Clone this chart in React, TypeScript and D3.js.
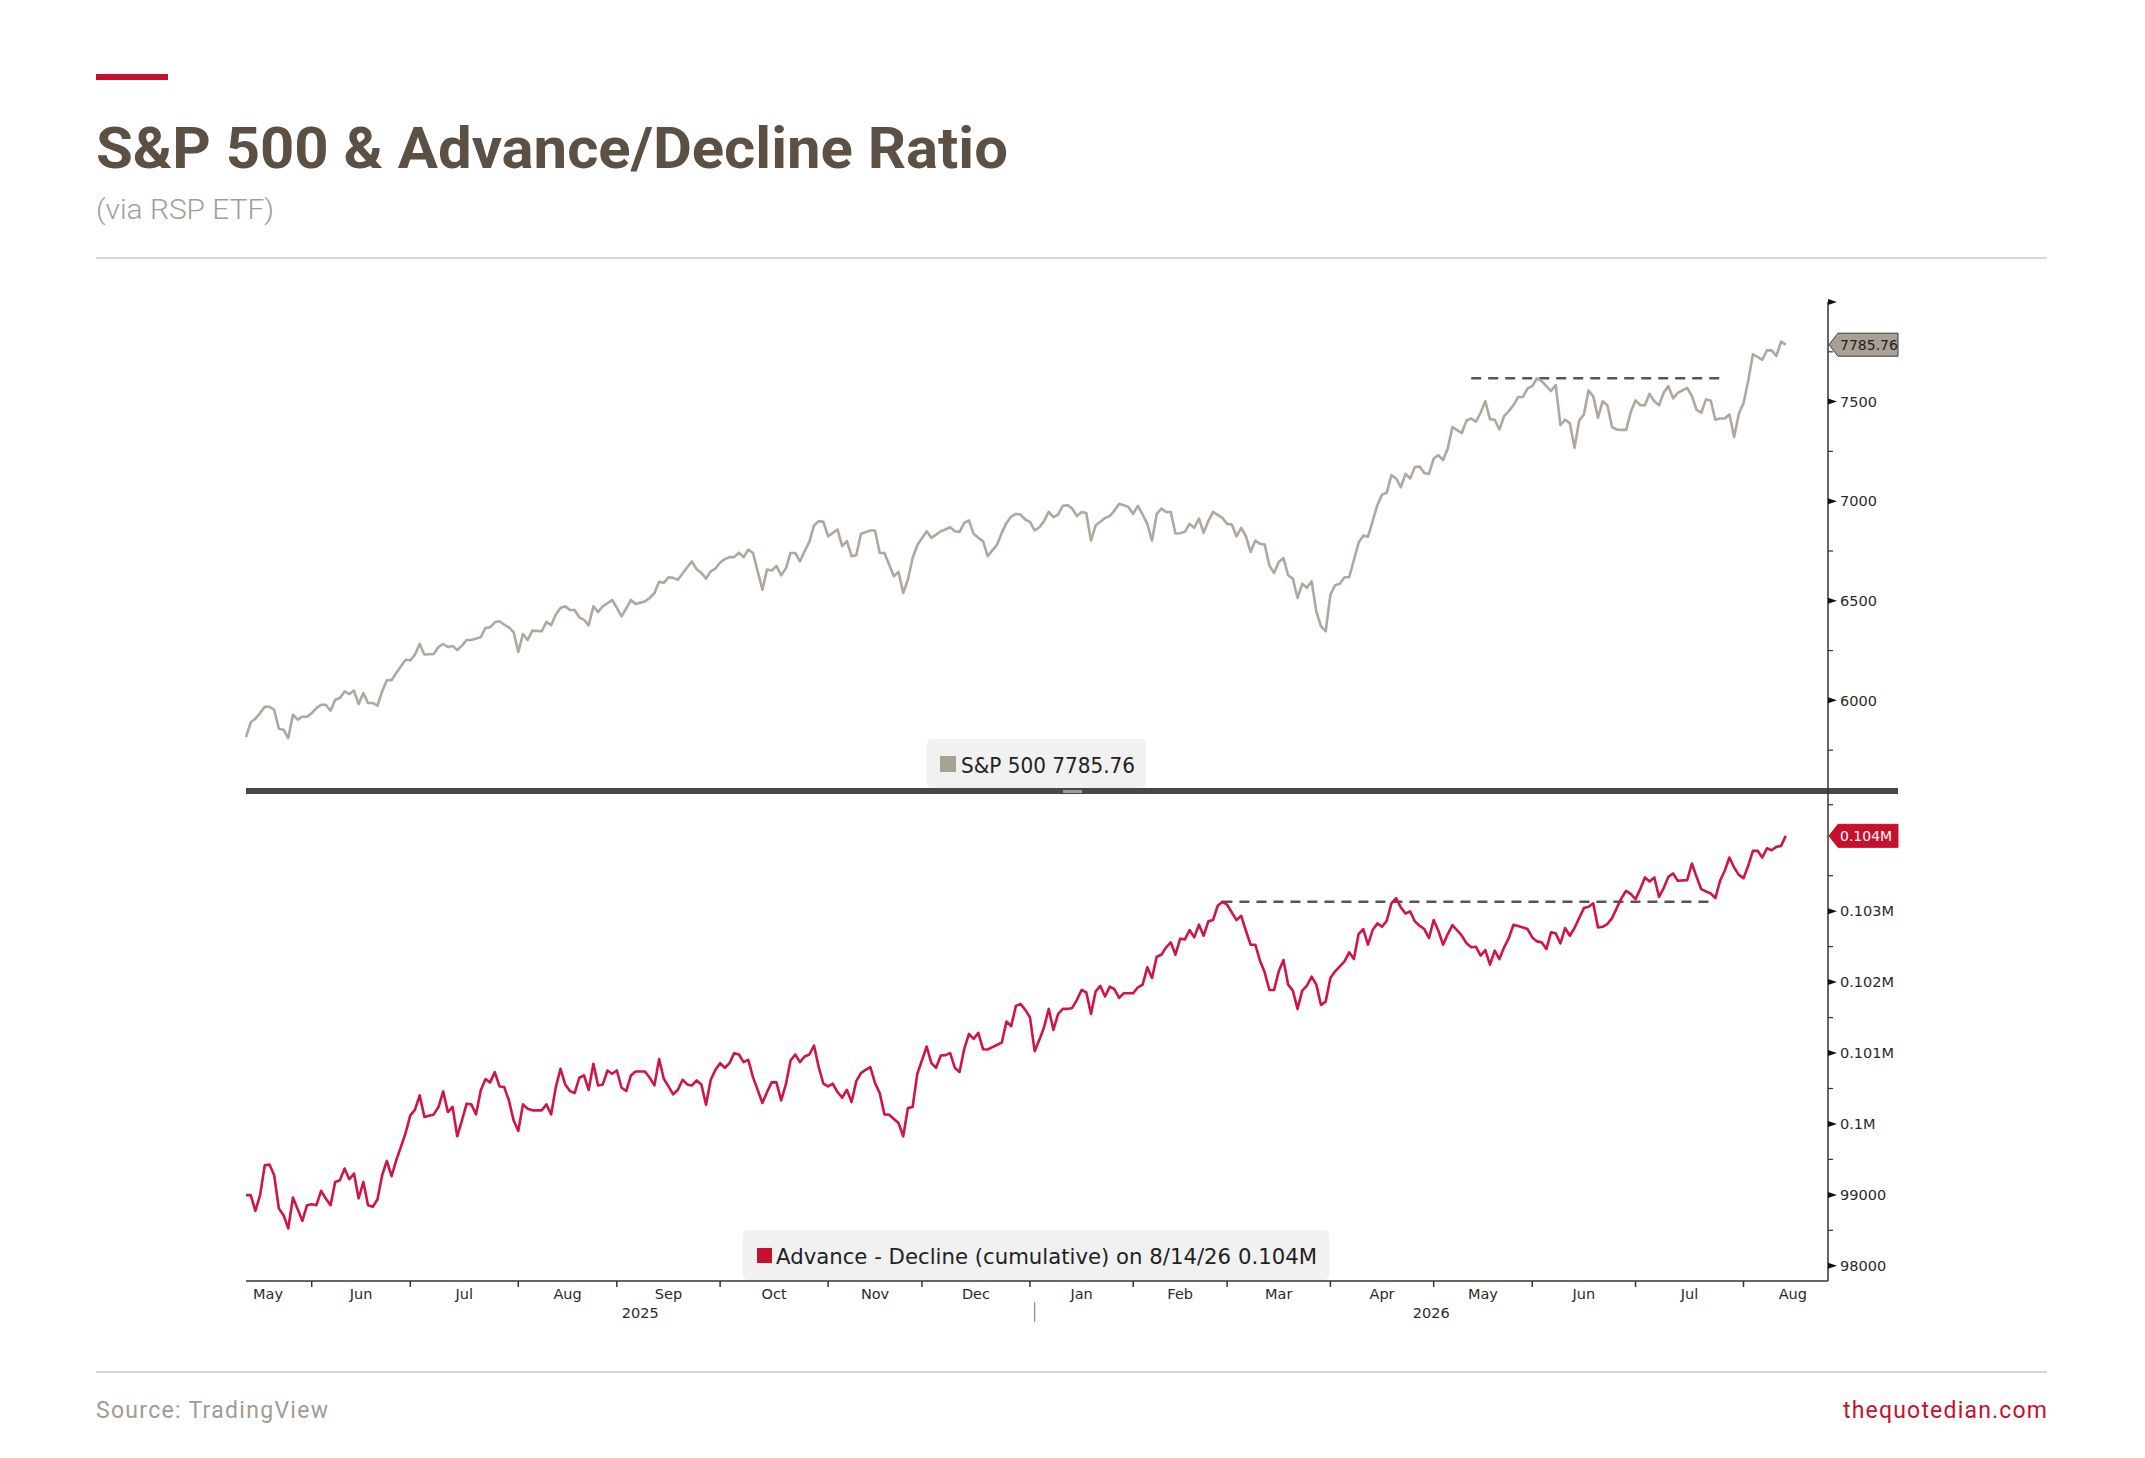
import * as d3 from "d3";

// S&P 500 vs cumulative advance/decline line (RSP), daily closes.
// Each row is [trading day counted from 2025-05-13 (weekdays), value].

const START = new Date(2025, 4, 13);
const X_END = new Date(2026, 7, 27);
const LAST_DATE = "8/14/26";

const SPX: [number, number][] = [
  [0, 5815], [1, 5890], [2, 5908], [3, 5936], [4, 5968], [5, 5968], [6, 5953], [7, 5858], [8, 5853], [9, 5811],
  [10, 5928], [11, 5903], [12, 5918], [13, 5918], [14, 5936], [15, 5961], [16, 5978], [17, 5978], [18, 5948], [19, 6003],
  [20, 6012], [21, 6045], [22, 6032], [23, 6049], [24, 5982], [25, 6037], [26, 5987], [27, 5987], [28, 5973], [29, 6045],
  [30, 6101], [31, 6101], [32, 6137], [33, 6171], [34, 6204], [35, 6201], [36, 6230], [37, 6283], [38, 6230], [40, 6233],
  [41, 6268], [42, 6283], [43, 6268], [44, 6273], [45, 6253], [46, 6275], [47, 6303], [48, 6303], [49, 6310], [50, 6317],
  [51, 6363], [52, 6367], [53, 6392], [54, 6397], [55, 6380], [56, 6367], [57, 6343], [58, 6243], [59, 6333], [60, 6303],
  [61, 6350], [63, 6347], [64, 6394], [65, 6377], [66, 6431], [67, 6464], [68, 6472], [69, 6454], [70, 6454], [71, 6417],
  [72, 6404], [73, 6377], [74, 6472], [75, 6444], [76, 6472], [78, 6504], [79, 6464], [80, 6422], [81, 6461], [82, 6504],
  [83, 6484], [85, 6497], [86, 6514], [87, 6538], [88, 6595], [89, 6590], [90, 6618], [91, 6615], [92, 6606], [93, 6637],
  [94, 6668], [95, 6698], [96, 6658], [97, 6640], [98, 6611], [99, 6648], [100, 6662], [101, 6692], [102, 6709], [103, 6719],
  [104, 6719], [105, 6742], [106, 6719], [107, 6757], [108, 6740], [110, 6556], [111, 6657], [112, 6652], [113, 6675], [114, 6628],
  [115, 6662], [116, 6740], [117, 6740], [118, 6698], [119, 6749], [120, 6796], [121, 6878], [122, 6900], [123, 6896], [124, 6824],
  [125, 6841], [126, 6858], [127, 6774], [128, 6799], [129, 6724], [130, 6729], [131, 6836], [133, 6853], [134, 6853], [135, 6740],
  [136, 6740], [137, 6682], [138, 6623], [139, 6645], [140, 6539], [141, 6606], [142, 6715], [143, 6779], [145, 6849], [146, 6816],
  [147, 6832], [148, 6849], [149, 6858], [150, 6869], [151, 6849], [152, 6846], [153, 6891], [154, 6903], [155, 6836], [156, 6816],
  [157, 6799], [158, 6724], [160, 6782], [161, 6841], [162, 6891], [163, 6923], [164, 6936], [165, 6933], [166, 6908], [167, 6896],
  [168, 6853], [169, 6869], [170, 6900], [171, 6946], [172, 6920], [173, 6933], [174, 6977], [175, 6980], [176, 6963], [177, 6925],
  [178, 6946], [179, 6941], [180, 6802], [181, 6879], [183, 6916], [184, 6925], [185, 6953], [186, 6987], [187, 6980], [188, 6970],
  [189, 6936], [190, 6977], [191, 6933], [192, 6886], [193, 6802], [194, 6936], [195, 6963], [196, 6946], [197, 6946], [198, 6838],
  [199, 6839], [200, 6846], [201, 6886], [202, 6866], [203, 6913], [204, 6841], [205, 6900], [206, 6946], [208, 6916], [209, 6886],
  [210, 6883], [211, 6824], [212, 6866], [213, 6824], [214, 6745], [215, 6802], [216, 6786], [217, 6782], [218, 6677], [219, 6640],
  [220, 6695], [221, 6715], [222, 6628], [223, 6611], [224, 6514], [225, 6585], [226, 6565], [227, 6598], [228, 6447], [229, 6372],
  [230, 6347], [231, 6531], [232, 6578], [233, 6586], [234, 6618], [235, 6618], [237, 6791], [238, 6827], [239, 6822], [240, 6900],
  [241, 6980], [242, 7033], [243, 7042], [244, 7131], [245, 7114], [246, 7070], [247, 7137], [248, 7114], [249, 7171], [250, 7174],
  [251, 7142], [252, 7137], [253, 7214], [254, 7231], [255, 7206], [256, 7265], [257, 7372], [259, 7342], [260, 7405], [261, 7415],
  [262, 7399], [263, 7444], [264, 7502], [265, 7412], [266, 7409], [267, 7360], [268, 7427], [269, 7452], [270, 7482], [271, 7523],
  [272, 7523], [273, 7566], [274, 7578], [275, 7617], [276, 7603], [278, 7553], [279, 7583], [280, 7382], [281, 7409], [282, 7392],
  [283, 7268], [284, 7405], [285, 7435], [286, 7556], [287, 7526], [288, 7419], [289, 7502], [290, 7482], [291, 7372], [292, 7360],
  [293, 7358], [294, 7358], [295, 7449], [296, 7506], [297, 7482], [298, 7482], [299, 7539], [300, 7502], [301, 7482], [302, 7544],
  [303, 7578], [304, 7516], [305, 7544], [307, 7569], [308, 7528], [309, 7459], [310, 7444], [311, 7511], [312, 7506], [313, 7409],
  [314, 7415], [315, 7415], [316, 7435], [317, 7322], [318, 7439], [319, 7492], [320, 7603], [321, 7737], [322, 7724], [323, 7710],
  [324, 7757], [325, 7757], [326, 7729], [327, 7801], [328, 7785.76],
];

const ADV_DEC: [number, number][] = [
  [0, 98996], [1, 98996], [2, 98775], [3, 98996], [4, 99418], [5, 99427], [6, 99277], [7, 98808], [8, 98714], [9, 98527],
  [10, 98963], [12, 98635], [13, 98855], [14, 98869], [15, 98855], [16, 99057], [17, 98949], [18, 98855], [19, 99183], [20, 99207],
  [21, 99371], [22, 99221], [23, 99300], [24, 98949], [25, 99183], [26, 98855], [27, 98832], [28, 98935], [29, 99277], [30, 99479],
  [31, 99263], [32, 99488], [33, 99676], [34, 99873], [35, 100121], [36, 100201], [37, 100403], [38, 100098], [40, 100135], [41, 100239],
  [42, 100459], [43, 100168], [44, 100239], [45, 99826], [46, 100051], [47, 100286], [48, 100276], [49, 100135], [50, 100473], [51, 100632],
  [52, 100586], [53, 100731], [54, 100529], [55, 100520], [56, 100332], [57, 100051], [58, 99901], [59, 100276], [60, 100215], [61, 100192],
  [63, 100192], [64, 100276], [65, 100135], [66, 100520], [67, 100778], [68, 100557], [69, 100464], [70, 100435], [71, 100651], [72, 100684],
  [73, 100482], [74, 100848], [75, 100543], [76, 100557], [77, 100754], [78, 100707], [79, 100754], [80, 100510], [81, 100464], [82, 100684],
  [83, 100740], [85, 100740], [86, 100651], [87, 100543], [88, 100914], [89, 100637], [90, 100529], [91, 100417], [92, 100482], [93, 100623],
  [94, 100557], [95, 100543], [96, 100614], [97, 100557], [98, 100271], [99, 100623], [100, 100764], [101, 100857], [102, 100792], [103, 100857],
  [104, 100998], [105, 100979], [106, 100872], [107, 100904], [108, 100661], [110, 100295], [111, 100450], [112, 100590], [113, 100586], [114, 100332],
  [115, 100557], [116, 100895], [117, 100979], [118, 100872], [119, 100951], [120, 100979], [121, 101106], [122, 100801], [123, 100567], [124, 100529],
  [125, 100567], [126, 100450], [127, 100370], [128, 100482], [129, 100309], [130, 100604], [131, 100717], [132, 100764], [133, 100801], [134, 100576],
  [135, 100435], [136, 100135], [137, 100131], [139, 100013], [140, 99826], [141, 100224], [142, 100239], [143, 100707], [145, 101092], [146, 100857],
  [147, 100792], [148, 100965], [149, 100970], [150, 100998], [151, 100792], [152, 100731], [153, 101059], [154, 101270], [155, 101200], [156, 101284],
  [157, 101054], [158, 101050], [159, 101083], [161, 101148], [162, 101444], [163, 101378], [164, 101664], [165, 101692], [166, 101608], [167, 101505],
  [168, 101026], [169, 101186], [170, 101364], [171, 101622], [172, 101326], [173, 101552], [174, 101622], [175, 101622], [176, 101636], [177, 101749],
  [178, 101889], [179, 101856], [180, 101552], [181, 101870], [182, 101946], [183, 101796], [184, 101936], [185, 101899], [186, 101777], [187, 101842],
  [189, 101842], [190, 101927], [191, 101964], [192, 102208], [193, 102058], [194, 102358], [195, 102386], [196, 102490], [197, 102560], [198, 102386],
  [199, 102612], [200, 102602], [201, 102734], [202, 102630], [203, 102809], [204, 102654], [205, 102856], [206, 102874], [207, 103076], [208, 103132],
  [209, 103090], [211, 102874], [212, 102935], [213, 102724], [214, 102527], [215, 102527], [216, 102302], [217, 102138], [218, 101889], [219, 101889],
  [220, 102152], [221, 102311], [222, 101964], [223, 101880], [224, 101622], [225, 101880], [226, 101950], [227, 102077], [228, 101964], [229, 101678],
  [230, 101725], [231, 102058], [232, 102152], [234, 102293], [235, 102419], [236, 102325], [237, 102677], [238, 102748], [239, 102527], [240, 102734],
  [241, 102827], [242, 102780], [243, 102865], [244, 103109], [245, 103184], [246, 103053], [247, 102968], [248, 102996], [249, 102856], [250, 102795],
  [251, 102748], [252, 102621], [253, 102874], [254, 102724], [255, 102527], [256, 102677], [257, 102804], [259, 102654], [260, 102546], [261, 102490],
  [262, 102499], [263, 102372], [264, 102452], [265, 102246], [266, 102443], [267, 102325], [268, 102490], [269, 102621], [270, 102809], [271, 102790],
  [272, 102771], [273, 102748], [274, 102630], [275, 102574], [276, 102560], [277, 102466], [278, 102701], [279, 102687], [280, 102546], [281, 102762],
  [282, 102654], [283, 102762], [285, 103043], [286, 103062], [287, 103109], [288, 102771], [289, 102780], [290, 102818], [291, 102902], [292, 103043],
  [293, 103184], [294, 103287], [295, 103240], [296, 103170], [297, 103310], [298, 103475], [299, 103418], [300, 103475], [301, 103203], [302, 103325],
  [303, 103484], [304, 103531], [305, 103428], [307, 103437], [308, 103672], [309, 103484], [310, 103310], [311, 103278], [312, 103250], [313, 103184],
  [314, 103428], [315, 103569], [316, 103756], [317, 103615], [318, 103512], [319, 103465], [320, 103639], [321, 103850], [322, 103850], [323, 103756],
  [324, 103887], [325, 103859], [326, 103906], [327, 103920], [328, 104062],
];

// dashed resistance lines: [from day, to day, level]
const SPX_HIGH: [number, number, number] = [261, 315, 7617];
const AD_HIGH: [number, number, number] = [208, 313, 103132];

const SPX_TICKS = [6000, 6500, 7000, 7500, 8000];
const SPX_MINOR = [5750, 6250, 6750, 7250, 7750];
const AD_TICKS = [98000, 99000, 100000, 101000, 102000, 103000];
const AD_MINOR = [98500, 99500, 100500, 101500, 102500, 103500, 104500];
const YEARS = ["2025", "2026"];

const W = 2145;
const H = 1458;
const P = { left: 246, right: 1828, top: 302, mid: 791, bottom: 1281 };

const RED = "#c8102e";
const LINE_RED = "#d0144a";
const SPX_GREY = "#b0a89f";
const AXIS = "#333333";
const BBG = "'DejaVu Sans', Verdana, sans-serif";
const HEAD = "Roboto, 'Noto Sans', sans-serif";

const isWeekday = (d: Date) => d.getDay() !== 0 && d.getDay() !== 6;

function dayIndex(d: Date): number {
  if (d >= START) return d3.timeDay.range(START, d).filter(isWeekday).length;
  return -d3.timeDay.range(d, START).filter(isWeekday).length;
}

const x = d3.scaleLinear().domain([0, dayIndex(X_END)]).range([P.left, P.right]);
const ySpx = d3.scaleLinear().domain([5545, 8000]).range([P.mid, P.top]);
const yAd = d3.scaleLinear().domain([97786, 104694]).range([P.bottom, P.mid]);

const fmtAd = (v: number) => (v >= 100000 ? `${+(v / 1e6).toFixed(3)}M` : `${v}`);

function PriceTag({ cy, fill, stroke, color, label }: { cy: number; fill: string; stroke: string; color: string; label: string }) {
  const x0 = P.right + 1;
  const x1 = 1898;
  const h = 11.5;
  const d = `M${x0},${cy} L${x0 + 9},${cy - h} L${x1},${cy - h} L${x1},${cy + h} L${x0 + 9},${cy + h} Z`;
  return (
    <g>
      <path d={d} fill={fill} stroke={stroke} strokeWidth={1} />
      <text x={x0 + 11} y={cy} dy="0.36em" fontFamily={BBG} fontSize={14} fill={color}>
        {label}
      </text>
    </g>
  );
}

function RightAxis({ scale, ticks, minor, fmt, hide }: { scale: d3.ScaleLinear<number, number>; ticks: number[]; minor: number[]; fmt: (v: number) => string; hide?: number[] }) {
  return (
    <g>
      {minor.map((v) => (
        <line key={`m${v}`} x1={P.right} x2={P.right + 5} y1={scale(v)} y2={scale(v)} stroke={AXIS} strokeWidth={1.2} />
      ))}
      {ticks.map((v) => {
        const y = scale(v);
        const showLabel = !(hide ?? []).includes(v);
        return (
          <g key={`t${v}`}>
            <path d={`M${P.right},${y - 3} L${P.right + 9},${y} L${P.right},${y + 3} Z`} fill="#111" />
            {showLabel && (
              <text x={P.right + 12} y={y} dy="0.36em" fontFamily={BBG} fontSize={14.5} fill="#2a2a2a">
                {fmt(v)}
              </text>
            )}
          </g>
        );
      })}
    </g>
  );
}

export default function App() {
  const spxLine = d3
    .line<[number, number]>()
    .x((d) => x(d[0]))
    .y((d) => ySpx(d[1]))(SPX) ?? "";
  const adLine = d3
    .line<[number, number]>()
    .x((d) => x(d[0]))
    .y((d) => yAd(d[1]))(ADV_DEC) ?? "";

  const spxLast = SPX[SPX.length - 1][1];
  const adLast = ADV_DEC[ADV_DEC.length - 1][1];

  // month boundaries and labels on the trading-day axis
  const months = d3.timeMonth.range(new Date(2025, 4, 1), new Date(2026, 8, 1));
  const monthStart = months.map((m) => {
    let d = m;
    while (!isWeekday(d)) d = d3.timeDay.offset(d, 1);
    return dayIndex(d);
  });
  const monthEnd = d3.timeMonth.offset(months[months.length - 1], 1);
  const boundaries = [...monthStart, dayIndex(monthEnd)];
  const yearSplit = x(dayIndex(new Date(2026, 0, 2)));

  return (
    <svg width={W} height={H} style={{ position: "absolute", left: 0, top: 0, background: "#fff" }}>
      {/* header */}
      <rect x={96} y={74} width={72} height={6} fill={RED} />
      <text x={96} y={168} fontFamily={HEAD} fontWeight={700} fontSize={58} fill="#5c4f43" textLength={912} lengthAdjust="spacingAndGlyphs">
        S&amp;P 500 &amp; Advance/Decline Ratio
      </text>
      <text x={96} y={219} fontFamily={HEAD} fontWeight={300} fontSize={28} fill="#a59d95" textLength={178} lengthAdjust="spacingAndGlyphs">
        (via RSP ETF)
      </text>
      <line x1={96} x2={2047} y1={258} y2={258} stroke="#d6d6d6" strokeWidth={2} />

      {/* dashed highs */}
      <line x1={x(SPX_HIGH[0])} x2={x(SPX_HIGH[1])} y1={ySpx(SPX_HIGH[2])} y2={ySpx(SPX_HIGH[2])} stroke="#5a554f" strokeWidth={2.5} strokeDasharray="10 7" />
      <line x1={x(AD_HIGH[0])} x2={x(AD_HIGH[1])} y1={yAd(AD_HIGH[2])} y2={yAd(AD_HIGH[2])} stroke="#5a554f" strokeWidth={2.5} strokeDasharray="10 7" />

      {/* series */}
      <path d={spxLine} fill="none" stroke={SPX_GREY} strokeWidth={2.6} strokeLinejoin="round" />
      <path d={adLine} fill="none" stroke={LINE_RED} strokeWidth={2.6} strokeLinejoin="round" />

      {/* legends */}
      <rect x={927} y={739} width={219} height={49} rx={5} fill="#f1f1f1" />
      <rect x={940} y={756} width={16} height={16} fill="#aaa196" />
      <text x={961} y={773} fontFamily={BBG} fontSize={22} fill="#222" textLength={174} lengthAdjust="spacingAndGlyphs">
        {`S&P 500 ${spxLast.toFixed(2)}`}
      </text>

      <rect x={743} y={1230} width={586} height={50} rx={5} fill="#f1f1f1" />
      <rect x={757} y={1248} width={15} height={15} fill={RED} />
      <text x={776} y={1264} fontFamily={BBG} fontSize={22} fill="#222" textLength={541} lengthAdjust="spacingAndGlyphs">
        {`Advance - Decline (cumulative) on ${LAST_DATE} ${fmtAd(Math.round(adLast / 1000) * 1000)}`}
      </text>

      {/* panel separator */}
      <rect x={P.left} y={P.mid - 3} width={1898 - P.left} height={6} fill="#474747" />
      <rect x={1063} y={P.mid - 1} width={19} height={3} fill="#9c9c9c" />

      {/* frame */}
      <line x1={P.right} x2={P.right} y1={P.top} y2={P.bottom} stroke={AXIS} strokeWidth={1.5} />
      <line x1={P.left} x2={P.right} y1={P.bottom} y2={P.bottom} stroke={AXIS} strokeWidth={1.5} />

      {/* right axes */}
      <RightAxis scale={ySpx} ticks={SPX_TICKS} minor={SPX_MINOR} fmt={(v) => `${v}`} hide={[8000]} />
      <RightAxis scale={yAd} ticks={AD_TICKS} minor={AD_MINOR} fmt={fmtAd} />
      <PriceTag cy={ySpx(spxLast)} fill="#a89f95" stroke="#3a3a3a" color="#1e1e1e" label={spxLast.toFixed(2)} />
      <PriceTag cy={yAd(adLast)} fill={RED} stroke={RED} color="#ffffff" label={fmtAd(Math.round(adLast / 1000) * 1000)} />

      {/* time axis */}
      {monthStart.slice(1).map((s, i) => (
        <line key={`mt${i}`} x1={x(s)} x2={x(s)} y1={P.bottom} y2={P.bottom + 6} stroke={AXIS} strokeWidth={1.5} />
      ))}
      {months.map((m, i) => {
        const cx = Math.max(P.left + 22, x((boundaries[i] + boundaries[i + 1]) / 2));
        return (
          <text key={`ml${i}`} x={cx} y={1299} textAnchor="middle" fontFamily={BBG} fontSize={14.5} fill="#2a2a2a">
            {d3.timeFormat("%b")(m)}
          </text>
        );
      })}
      <text x={(P.left + yearSplit) / 2} y={1318} textAnchor="middle" fontFamily={BBG} fontSize={14.5} fill="#2a2a2a">
        {YEARS[0]}
      </text>
      <text x={(yearSplit + P.right) / 2} y={1318} textAnchor="middle" fontFamily={BBG} fontSize={14.5} fill="#2a2a2a">
        {YEARS[1]}
      </text>
      <line x1={yearSplit} x2={yearSplit} y1={1302} y2={1322} stroke="#8a8a8a" strokeWidth={1.2} />

      {/* footer */}
      <line x1={96} x2={2047} y1={1372} y2={1372} stroke="#d6d6d6" strokeWidth={2} />
      <text x={96} y={1418} fontFamily={HEAD} fontSize={23} fill="#a39a92" textLength={232} lengthAdjust="spacing">
        Source: TradingView
      </text>
      <text x={2047} y={1418} textAnchor="end" fontFamily={HEAD} fontSize={23} fill={RED} textLength={204} lengthAdjust="spacing">
        thequotedian.com
      </text>
    </svg>
  );
}
